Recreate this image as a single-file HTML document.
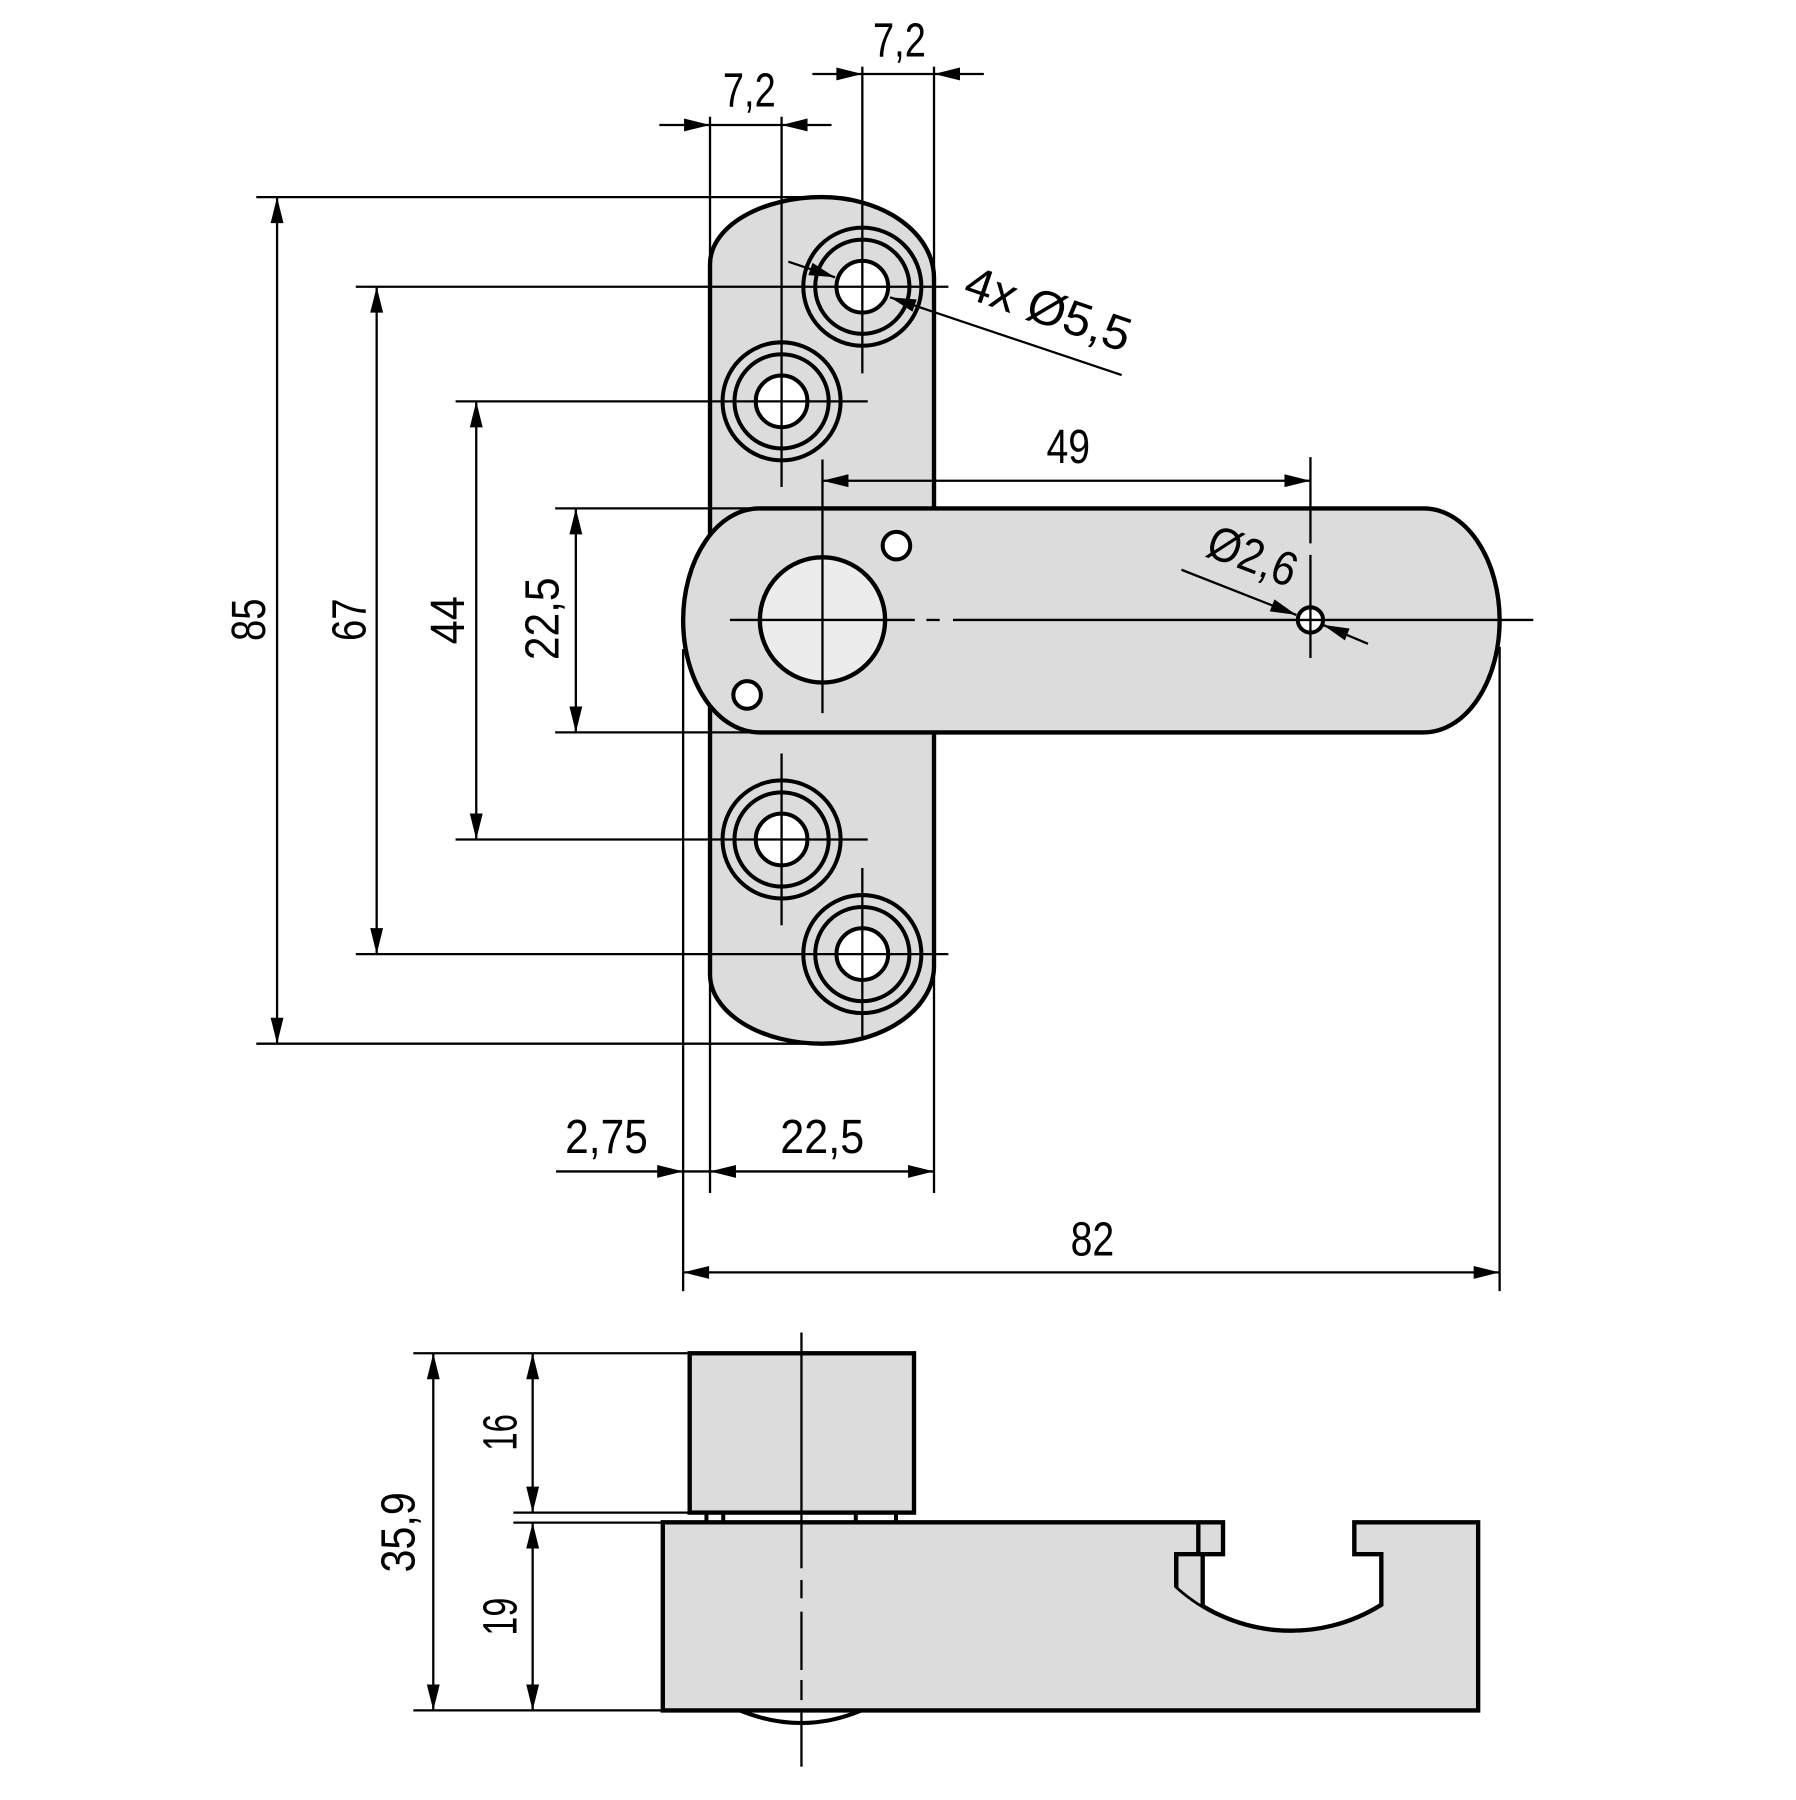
<!DOCTYPE html>
<html>
<head>
<meta charset="utf-8">
<style>
html,body{margin:0;padding:0;background:#fff;}
svg{display:block;}
text{font-family:"Liberation Sans","DejaVu Sans",sans-serif;font-size:42px;fill:#000;}
</style>
</head>
<body>
<svg xmlns="http://www.w3.org/2000/svg" width="1796" height="1800" viewBox="0 0 1563.5 1567">
<rect x="0" y="0" width="1563.5" height="1567" fill="#fff"/>

<!-- ============ TOP VIEW ============ -->
<!-- plate -->
<path d="M618.1,230 A97.5,58.4 0 0 1 715.6,171.6 A97.5,70.4 0 0 1 813.1,242 L813.1,841 A97.5,67.6 0 0 1 715.6,908.6 A97.5,60.6 0 0 1 618.1,848 Z" fill="#dcdcdc" stroke="#000" stroke-width="3.8"/>

<!-- holes on plate -->
<g stroke="#000" stroke-width="3.5">
  <circle cx="750.7" cy="249.6" r="51.4" fill="none"/>
  <circle cx="750.7" cy="249.6" r="41" fill="none"/>
  <circle cx="750.7" cy="249.6" r="22.5" fill="#fff"/>

  <circle cx="680.4" cy="349.4" r="51.4" fill="none"/>
  <circle cx="680.4" cy="349.4" r="41" fill="none"/>
  <circle cx="680.4" cy="349.4" r="22.5" fill="#fff"/>

  <circle cx="680.4" cy="730.8" r="51.4" fill="none"/>
  <circle cx="680.4" cy="730.8" r="41" fill="none"/>
  <circle cx="680.4" cy="730.8" r="22.5" fill="#fff"/>

  <circle cx="750.7" cy="830.6" r="51.4" fill="none"/>
  <circle cx="750.7" cy="830.6" r="41" fill="none"/>
  <circle cx="750.7" cy="830.6" r="22.5" fill="#fff"/>
</g>

<!-- bar -->
<path d="M661,442.6 L1239.5,442.6 A66,97.5 0 0 1 1239.5,637.6 L661,637.6 A66.3,97.5 0 0 1 661,442.6 Z" fill="#dcdcdc" stroke="#000" stroke-width="3.8"/>
<circle cx="716" cy="539.7" r="54.5" fill="#ececec" stroke="#000" stroke-width="3.8"/>
<circle cx="780.4" cy="475" r="12" fill="#fff" stroke="#000" stroke-width="3.5"/>
<circle cx="650.4" cy="605" r="12" fill="#fff" stroke="#000" stroke-width="3.5"/>
<circle cx="1140.8" cy="539.7" r="11" fill="#fff" stroke="#000" stroke-width="3.5"/>

<!-- thin lines top view -->
<g stroke="#000" stroke-width="2" fill="none">
  <!-- extension / center lines vertical -->
  <line x1="618.1" y1="101.6" x2="618.1" y2="232"/>
  <line x1="618.1" y1="846" x2="618.1" y2="1038.6"/>
  <line x1="680.4" y1="101.6" x2="680.4" y2="424"/>
  <line x1="750.7" y1="58" x2="750.7" y2="325"/>
  <line x1="813.1" y1="58" x2="813.1" y2="244"/>
  <line x1="813.1" y1="839" x2="813.1" y2="1038.6"/>
  <line x1="680.4" y1="656" x2="680.4" y2="805.5"/>
  <line x1="750.7" y1="755.6" x2="750.7" y2="904"/>
  <!-- horizontal ext lines -->
  <line x1="223.1" y1="171.6" x2="716" y2="171.6"/>
  <line x1="309.7" y1="249.6" x2="825.6" y2="249.6"/>
  <line x1="396.6" y1="349.4" x2="755.4" y2="349.4"/>
  <line x1="483.3" y1="442.6" x2="661" y2="442.6"/>
  <line x1="483.3" y1="637.6" x2="661" y2="637.6"/>
  <line x1="396.6" y1="730.8" x2="755.4" y2="730.8"/>
  <line x1="309.7" y1="830.6" x2="825.6" y2="830.6"/>
  <line x1="223.1" y1="908.6" x2="716" y2="908.6"/>
  <!-- vertical dim lines -->
  <line x1="241.2" y1="171.6" x2="241.2" y2="908.6"/>
  <line x1="327.9" y1="249.6" x2="327.9" y2="830.6"/>
  <line x1="414.6" y1="349.4" x2="414.6" y2="730.8"/>
  <line x1="501.3" y1="442.6" x2="501.3" y2="637.6"/>
  <!-- top 7,2 dims -->
  <line x1="574" y1="108.8" x2="723.9" y2="108.8"/>
  <line x1="707.2" y1="64.4" x2="856.5" y2="64.4"/>
  <!-- pivot & small hole center lines -->
  <line x1="716" y1="400" x2="716" y2="620.8"/>
  <line x1="1140.8" y1="398" x2="1140.8" y2="473"/>
  <line x1="1140.8" y1="483" x2="1140.8" y2="572.8"/>
  <line x1="635.4" y1="539.7" x2="796.4" y2="539.7"/>
  <line x1="806.5" y1="539.7" x2="818" y2="539.7"/>
  <line x1="829.6" y1="539.7" x2="1334.8" y2="539.7"/>
  <!-- 49 dim -->
  <line x1="716" y1="418.5" x2="1140.8" y2="418.5"/>
  <!-- lower ext lines -->
  <line x1="594.7" y1="565" x2="594.7" y2="1124"/>
  <line x1="1305.5" y1="563" x2="1305.5" y2="1124"/>
  <line x1="484" y1="1019.8" x2="813.1" y2="1019.8"/>
  <line x1="594.7" y1="1107.7" x2="1305.5" y2="1107.7"/>
  <!-- leaders -->
  <line x1="686.3" y1="227.8" x2="726.9" y2="241.4"/>
  <line x1="774.8" y1="258.8" x2="976.5" y2="326.5"/>
  <line x1="1028.5" y1="496" x2="1128.5" y2="535.3"/>
  <line x1="1151.8" y1="544" x2="1190.9" y2="560.5"/>
</g>

<!-- arrowheads top view -->
<g fill="#000">
  <!-- 85 -->
  <polygon points="241.2,171.6 235.6,194.2 246.8,194.2"/>
  <polygon points="241.2,908.6 235.6,886 246.8,886"/>
  <!-- 67 -->
  <polygon points="327.9,249.6 322.3,272.2 333.5,272.2"/>
  <polygon points="327.9,830.6 322.3,808 333.5,808"/>
  <!-- 44 -->
  <polygon points="414.6,349.4 409,372 420.2,372"/>
  <polygon points="414.6,730.8 409,708.2 420.2,708.2"/>
  <!-- 22,5 vertical -->
  <polygon points="501.3,442.6 495.7,465.2 506.9,465.2"/>
  <polygon points="501.3,637.6 495.7,615 506.9,615"/>
  <!-- 7,2 left -->
  <polygon points="618.1,108.8 595.5,103.2 595.5,114.4"/>
  <polygon points="680.4,108.8 703,103.2 703,114.4"/>
  <!-- 7,2 right -->
  <polygon points="750.7,64.4 728.1,58.8 728.1,70"/>
  <polygon points="813.1,64.4 835.7,58.8 835.7,70"/>
  <!-- 49 -->
  <polygon points="716,418.5 738.6,412.9 738.6,424.1"/>
  <polygon points="1140.8,418.5 1118.2,412.9 1118.2,424.1"/>
  <!-- 2,75 / 22,5 -->
  <polygon points="594.7,1019.8 572.1,1014.2 572.1,1025.4"/>
  <polygon points="618.1,1019.8 640.7,1014.2 640.7,1025.4"/>
  <polygon points="813.1,1019.8 790.5,1014.2 790.5,1025.4"/>
  <!-- 82 -->
  <polygon points="594.7,1107.7 617.3,1102.1 617.3,1113.3"/>
  <polygon points="1305.5,1107.7 1282.9,1102.1 1282.9,1113.3"/>
  <!-- 4x 5,5 leader -->
  <polygon points="726.9,241.4 703.7,239.5 707.3,228.9"/>
  <polygon points="774.8,258.8 798,260.7 794.4,271.3"/>
  <!-- 2,6 leader -->
  <polygon points="1128.5,535.3 1105.4,532.2 1109.5,521.8"/>
  <polygon points="1151.8,544 1174.9,547.1 1170.8,557.5"/>
</g>

<!-- texts top view -->
<text x="652.3" y="92.9" text-anchor="middle" textLength="46" lengthAdjust="spacingAndGlyphs">7,2</text>
<text x="783" y="49.3" text-anchor="middle" textLength="46" lengthAdjust="spacingAndGlyphs">7,2</text>
<text x="930" y="403" text-anchor="middle" textLength="38" lengthAdjust="spacingAndGlyphs">49</text>
<text x="528" y="1003.8" text-anchor="middle" textLength="72" lengthAdjust="spacingAndGlyphs">2,75</text>
<text x="715.8" y="1003.8" text-anchor="middle" textLength="73" lengthAdjust="spacingAndGlyphs">22,5</text>
<text x="951" y="1093" text-anchor="middle" textLength="38" lengthAdjust="spacingAndGlyphs">82</text>
<text transform="translate(230.8,539.5) rotate(-90)" x="0" y="0" text-anchor="middle" textLength="37" lengthAdjust="spacingAndGlyphs">85</text>
<text transform="translate(318,539.5) rotate(-90)" x="0" y="0" text-anchor="middle" textLength="37" lengthAdjust="spacingAndGlyphs">67</text>
<text transform="translate(404,540) rotate(-90)" x="0" y="0" text-anchor="middle" textLength="42" lengthAdjust="spacingAndGlyphs">44</text>
<text transform="translate(486.3,538.7) rotate(-90)" x="0" y="0" text-anchor="middle" textLength="72" lengthAdjust="spacingAndGlyphs">22,5</text>
<text transform="translate(837,258) rotate(19)" x="0" y="0" textLength="150" lengthAdjust="spacingAndGlyphs">4x Ø5,5</text>
<text transform="translate(1048,483) rotate(21)" x="0" y="0" textLength="80" lengthAdjust="spacingAndGlyphs">Ø2,6</text>

<!-- ============ BOTTOM VIEW ============ -->
<!-- block -->
<rect x="600.4" y="1178.1" width="195.3" height="138.7" fill="#dcdcdc" stroke="#000" stroke-width="3.8"/>
<!-- feet -->
<g stroke="#000" stroke-width="3.5">
  <line x1="615" y1="1316.8" x2="615" y2="1325.5"/>
  <line x1="629.6" y1="1316.8" x2="629.6" y2="1325.5"/>
  <line x1="745" y1="1316.8" x2="745" y2="1325.5"/>
  <line x1="780" y1="1316.8" x2="780" y2="1325.5"/>
</g>
<!-- body -->
<path d="M577,1325.3 L1064.7,1325.3 L1064.7,1353 L1024,1353 L1024,1380.9 A148,148 0 0 0 1202.5,1397 L1202.5,1353 L1179,1353 L1179,1325.3 L1286.8,1325.3 L1286.8,1489 L577,1489 Z" fill="#dcdcdc" stroke="#000" stroke-width="3.8" stroke-linejoin="miter"/>
<!-- hook piece fill -->
<path d="M1026,1355 L1047,1355 L1047,1397.6 A148,148 0 0 1 1026,1382 Z" fill="#dcdcdc"/>
<g stroke="#000" stroke-width="3.8">
  <line x1="1043.2" y1="1325.3" x2="1043.2" y2="1353"/>
  <line x1="1047" y1="1353" x2="1047" y2="1397.6"/>
  <line x1="1024" y1="1353" x2="1024" y2="1381"/>
</g>
<!-- bottom lens -->
<path d="M644,1489 Q697.7,1511 750,1489" fill="none" stroke="#000" stroke-width="3.5"/>

<!-- thin lines bottom view -->
<g stroke="#000" stroke-width="2" fill="none">
  <line x1="359.8" y1="1178.1" x2="600.4" y2="1178.1"/>
  <line x1="446.9" y1="1316.8" x2="615" y2="1316.8"/>
  <line x1="446.9" y1="1325.5" x2="577" y2="1325.5"/>
  <line x1="359.8" y1="1489" x2="577" y2="1489"/>
  <line x1="377.2" y1="1178.1" x2="377.2" y2="1489"/>
  <line x1="463.7" y1="1178.1" x2="463.7" y2="1316.8"/>
  <line x1="463.7" y1="1325.5" x2="463.7" y2="1489"/>
  <!-- center line -->
  <line x1="697.7" y1="1160" x2="697.7" y2="1365.3"/>
  <line x1="697.7" y1="1375.5" x2="697.7" y2="1391.4"/>
  <line x1="697.7" y1="1403" x2="697.7" y2="1453.8"/>
  <line x1="697.7" y1="1462.5" x2="697.7" y2="1480"/>
  <line x1="697.7" y1="1489" x2="697.7" y2="1538"/>
</g>
<g fill="#000">
  <!-- 35,9 -->
  <polygon points="377.2,1178.1 371.6,1200.7 382.8,1200.7"/>
  <polygon points="377.2,1489 371.6,1466.4 382.8,1466.4"/>
  <!-- 16 -->
  <polygon points="463.7,1178.1 458.1,1200.7 469.3,1200.7"/>
  <polygon points="463.7,1316.8 458.1,1294.2 469.3,1294.2"/>
  <!-- 19 -->
  <polygon points="463.7,1325.5 458.1,1348.1 469.3,1348.1"/>
  <polygon points="463.7,1489 458.1,1466.4 469.3,1466.4"/>
</g>
<text transform="translate(361,1334) rotate(-90)" x="0" y="0" text-anchor="middle" textLength="70" lengthAdjust="spacingAndGlyphs">35,9</text>
<text transform="translate(449.8,1247) rotate(-90)" x="0" y="0" text-anchor="middle" textLength="32" lengthAdjust="spacingAndGlyphs">16</text>
<text transform="translate(449.8,1407.4) rotate(-90)" x="0" y="0" text-anchor="middle" textLength="33" lengthAdjust="spacingAndGlyphs">19</text>
</svg>
</body>
</html>
